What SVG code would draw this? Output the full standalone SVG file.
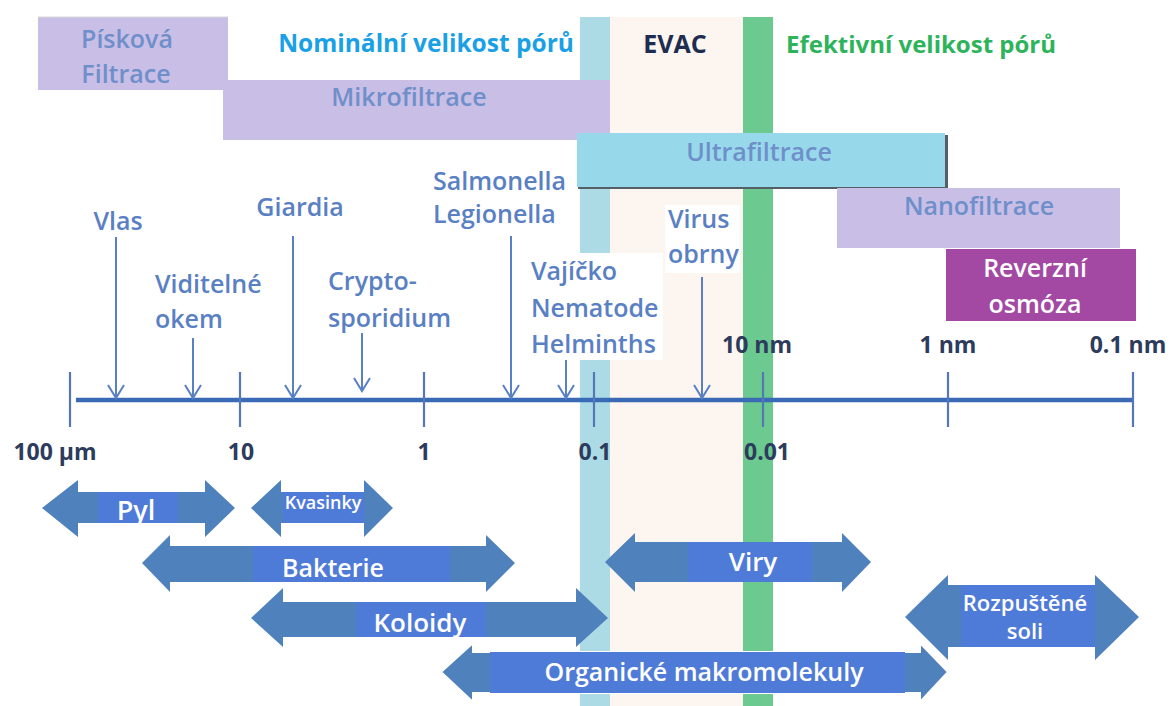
<svg xmlns="http://www.w3.org/2000/svg" width="1172" height="706" viewBox="0 0 1172 706">
<defs>
<style>
text{font-family:"Open Sans","Liberation Sans",sans-serif;font-weight:600;}
.box{font-size:25px;fill:#6f8fca;text-anchor:middle;}
.lbl{font-size:25px;fill:#5a80c4;}
.ax{font-size:23px;fill:#2d3b5c;font-weight:700;}
.arw{fill:#4f81bd;}
.inner{fill:#4f7bd8;}
.at{font-size:25px;fill:#ffffff;text-anchor:middle;}
.pt{stroke:#5a80c4;stroke-width:2;fill:none;marker-end:url(#v);}
.tick{stroke:#5577b8;stroke-width:2.2;}
</style>
<marker id="v" markerUnits="userSpaceOnUse" viewBox="-15 -10 17 20" markerWidth="17" markerHeight="20" refX="0" refY="0" orient="auto">
<path d="M-13,-8 L0,0 L-13,8" fill="none" stroke="#5a80c4" stroke-width="2"/>
</marker>
</defs>
<rect width="1172" height="706" fill="#ffffff"/>
<!-- background bands -->
<g id="bands">
<rect x="580" y="17" width="30" height="689" fill="#acdbe6"/>
<rect x="610" y="17" width="133" height="689" fill="#fdf5ef"/>
<rect x="743" y="17" width="30" height="689" fill="#6cc98f"/>
</g>
<!-- filtration boxes -->
<g id="piskova">
<rect x="38" y="17" width="190" height="73" fill="#c8bee6"/>
<line x1="38" y1="17" x2="228" y2="17" stroke="#d6d6d6" stroke-width="1"/>
<text class="box" x="127" y="48">Písková</text>
<text class="box" x="126" y="83">Filtrace</text>
</g>
<g id="mikro">
<rect x="223" y="80" width="387" height="60" fill="#c8bee6"/>
<text class="box" x="409" y="106">Mikrofiltrace</text>
</g>
<g id="ultra">
<rect x="578" y="135" width="370" height="54" fill="#555f66"/>
<rect x="577" y="133" width="368" height="54" fill="#97d9ea"/>
<text class="box" x="759" y="161">Ultrafiltrace</text>
</g>
<g id="nano">
<rect x="837" y="188" width="283" height="60" fill="#c8bee6"/>
<text class="box" x="979" y="215">Nanofiltrace</text>
</g>
<g id="ro">
<rect x="946" y="249" width="190" height="72" fill="#a349a4"/>
<text class="box" x="1035" y="277" style="fill:#ffffff">Reverzní</text>
<text class="box" x="1035" y="313" style="fill:#ffffff">osmóza</text>
</g>
<!-- headers -->
<g id="headers">
<text x="426" y="52" style="font-size:24.5px;fill:#1aa0e6;font-weight:700;text-anchor:middle">Nominální velikost pórů</text>
<text x="675" y="53" style="font-size:25px;fill:#1e2d4f;font-weight:700;text-anchor:middle">EVAC</text>
<text x="921" y="53" style="font-size:24px;fill:#2db35a;font-weight:700;text-anchor:middle">Efektivní velikost pórů</text>
</g>
<!-- label backgrounds -->
<rect x="528" y="253" width="135" height="107" fill="#ffffff"/>
<rect x="665" y="205" width="75" height="68" fill="#ffffff"/>
<!-- axis -->
<g id="axis">
<line x1="76" y1="400" x2="1133" y2="400" stroke="#3a6ab6" stroke-width="4.5"/>
<line class="tick" x1="70" y1="372" x2="70" y2="427"/>
<line class="tick" x1="240" y1="372" x2="240" y2="427"/>
<line class="tick" x1="424" y1="372" x2="424" y2="427"/>
<line class="tick" x1="594" y1="372" x2="594" y2="427"/>
<line class="tick" x1="763" y1="372" x2="763" y2="427"/>
<line class="tick" x1="948" y1="372" x2="948" y2="427"/>
<line class="tick" x1="1133" y1="372" x2="1133" y2="427"/>
<text class="ax" x="55" y="460" text-anchor="middle">100 µm</text>
<text class="ax" x="241" y="460" text-anchor="middle">10</text>
<text class="ax" x="424" y="460" text-anchor="middle">1</text>
<text class="ax" x="595" y="460" text-anchor="middle">0.1</text>
<text class="ax" x="767" y="460" text-anchor="middle">0.01</text>
<text class="ax" x="757" y="353" text-anchor="middle">10 nm</text>
<text class="ax" x="948" y="353" text-anchor="middle">1 nm</text>
<text class="ax" x="1128" y="353" text-anchor="middle">0.1 nm</text>
</g>
<!-- organism labels -->
<g id="vlas"><text class="lbl" x="118" y="230" text-anchor="middle">Vlas</text></g>
<g id="viditelne"><text class="lbl" x="155" y="293">Viditelné</text><text class="lbl" x="155" y="328">okem</text></g>
<g id="giardia"><text class="lbl" x="300" y="216" text-anchor="middle">Giardia</text></g>
<g id="crypto"><text class="lbl" x="328" y="290">Crypto-</text><text class="lbl" x="328" y="327">sporidium</text></g>
<g id="salmonella"><text class="lbl" x="433" y="190">Salmonella</text><text class="lbl" x="433" y="223">Legionella</text></g>
<g id="vajicko"><text class="lbl" x="531" y="280">Vajíčko</text><text class="lbl" x="531" y="317">Nematode</text><text class="lbl" x="531" y="353">Helminths</text></g>
<g id="virus"><text class="lbl" x="668" y="228">Virus</text><text class="lbl" x="668" y="263">obrny</text></g>
<!-- connectors -->
<g id="connectors">
<line class="pt" x1="116" y1="237" x2="116" y2="398"/>
<line class="pt" x1="193" y1="338" x2="193" y2="398"/>
<line class="pt" x1="293" y1="236" x2="293" y2="398"/>
<line class="pt" x1="362" y1="333" x2="362" y2="391"/>
<line class="pt" x1="511" y1="236" x2="511" y2="398"/>
<line class="pt" x1="566" y1="360" x2="566" y2="398"/>
<line class="pt" x1="702" y1="277" x2="702" y2="398"/>
</g>
<!-- size range arrows -->
<g id="pyl">
<polygon class="arw" points="42,508 78,480 78,492 205,492 205,480 235,508 205,537 205,523 78,523 78,537"/>
<rect class="inner" x="98" y="492" width="80" height="31"/>
<text class="at" x="136" y="520" style="font-size:27px">Pyl</text>
</g>
<g id="kvasinky">
<polygon class="arw" points="251,508 281,480 281,492 364,492 364,480 393,508 364,537 364,523 281,523 281,537"/>
<rect class="inner" x="283" y="492" width="81" height="31"/>
<text class="at" x="323" y="509" style="font-size:18px">Kvasinky</text>
</g>
<g id="bakterie">
<polygon class="arw" points="142,563 170,535 170,546 486,546 486,535 515,563 486,592 486,582 170,582 170,592"/>
<rect class="inner" x="253" y="546" width="197" height="36"/>
<text class="at" x="333" y="577">Bakterie</text>
</g>
<g id="koloidy">
<polygon class="arw" points="251,618 283,588 283,602 576,602 576,588 608,618 576,647 576,637 283,637 283,647"/>
<rect class="inner" x="356" y="602" width="130" height="35"/>
<text class="at" x="420" y="632" style="font-size:26px">Koloidy</text>
</g>
<g id="viry">
<polygon class="arw" points="605,562 635,533 635,542 842,542 842,533 871,562 842,592 842,582 635,582 635,592"/>
<rect class="inner" x="688" y="542" width="124" height="40"/>
<text class="at" x="753" y="571" style="font-size:26px">Viry</text>
</g>
<g id="soli">
<polygon class="arw" points="905,617 948,575 948,585 1095,585 1095,575 1139,617 1095,660 1095,647 948,647 948,660"/>
<rect class="inner" x="961" y="585" width="134" height="62"/>
<text class="at" x="1025" y="611" style="font-size:22px">Rozpuštěné</text>
<text class="at" x="1025" y="639" style="font-size:22px">soli</text>
</g>
<g id="organicke">
<polygon class="arw" points="441,672 473,643 473,652 920,652 920,643 948,672 920,702 920,693 473,693 473,702" stroke="#ffffff" stroke-width="2"/>
<rect class="inner" x="490" y="652" width="415" height="41"/>
<text class="at" x="704" y="681">Organické makromolekuly</text>
</g>
</svg>
